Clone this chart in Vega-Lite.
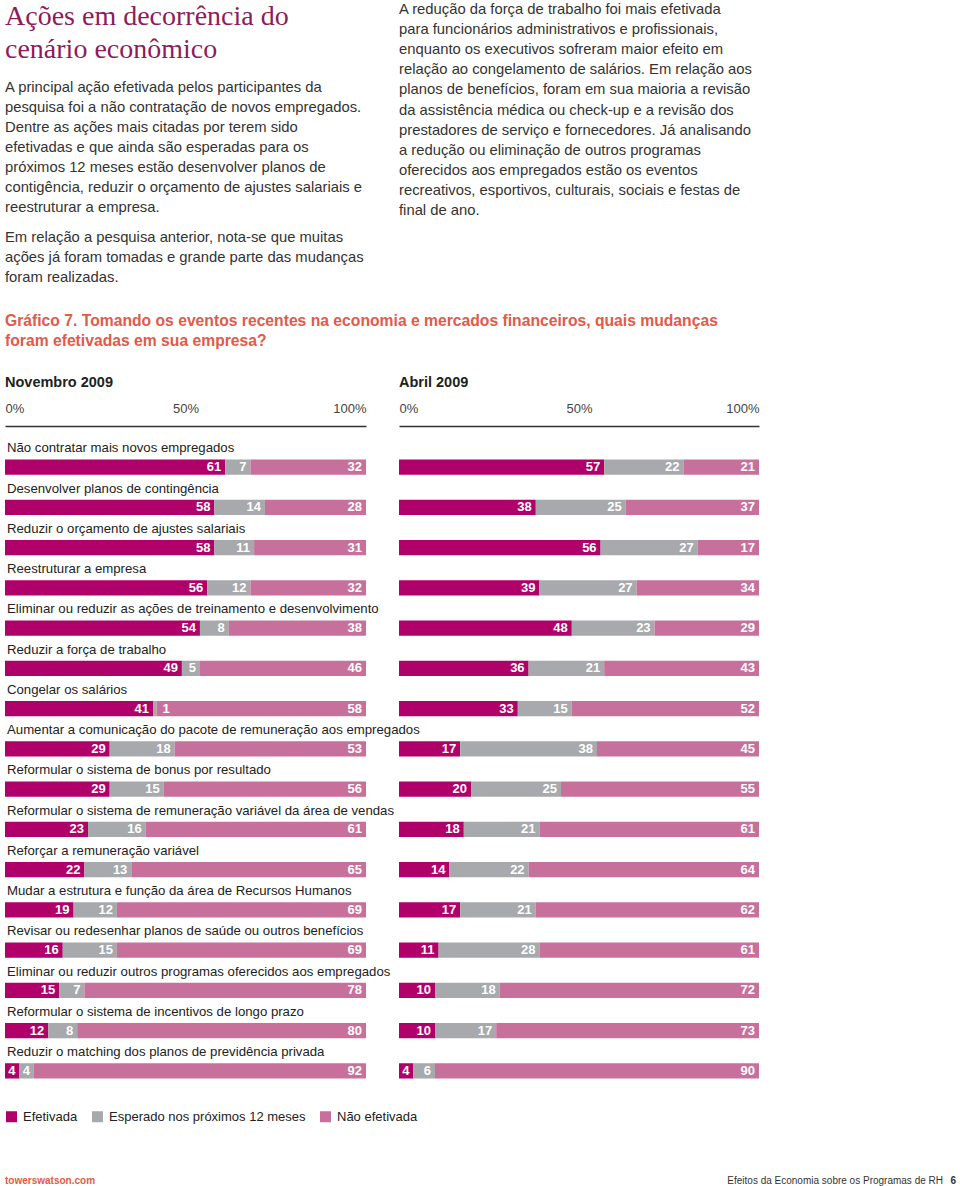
{
  "$schema": "https://vega.github.io/schema/vega-lite/v6.json",
  "background": "white",
  "padding": {"left": 5, "top": 0, "right": 0, "bottom": 0},
  "config": {"view": {"stroke": null}, "font": "Liberation Sans"},
  "datasets": {
    "barras": [
      {"periodo": "Novembro 2009", "acao": "Não contratar mais novos empregados", "Efetivada": 61, "Esperado nos próximos 12 meses": 7, "Não efetivada": 32},
      {"periodo": "Novembro 2009", "acao": "Desenvolver planos de contingência", "Efetivada": 58, "Esperado nos próximos 12 meses": 14, "Não efetivada": 28},
      {"periodo": "Novembro 2009", "acao": "Reduzir o orçamento de ajustes salariais", "Efetivada": 58, "Esperado nos próximos 12 meses": 11, "Não efetivada": 31},
      {"periodo": "Novembro 2009", "acao": "Reestruturar a empresa", "Efetivada": 56, "Esperado nos próximos 12 meses": 12, "Não efetivada": 32},
      {"periodo": "Novembro 2009", "acao": "Eliminar ou reduzir as ações de treinamento e desenvolvimento", "Efetivada": 54, "Esperado nos próximos 12 meses": 8, "Não efetivada": 38},
      {"periodo": "Novembro 2009", "acao": "Reduzir a força de trabalho", "Efetivada": 49, "Esperado nos próximos 12 meses": 5, "Não efetivada": 46},
      {"periodo": "Novembro 2009", "acao": "Congelar os salários", "Efetivada": 41, "Esperado nos próximos 12 meses": 1, "Não efetivada": 58},
      {"periodo": "Novembro 2009", "acao": "Aumentar a comunicação do pacote de remuneração aos empregados", "Efetivada": 29, "Esperado nos próximos 12 meses": 18, "Não efetivada": 53},
      {"periodo": "Novembro 2009", "acao": "Reformular o sistema de bonus por resultado", "Efetivada": 29, "Esperado nos próximos 12 meses": 15, "Não efetivada": 56},
      {"periodo": "Novembro 2009", "acao": "Reformular o sistema de remuneração variável da área de vendas", "Efetivada": 23, "Esperado nos próximos 12 meses": 16, "Não efetivada": 61},
      {"periodo": "Novembro 2009", "acao": "Reforçar a remuneração variável", "Efetivada": 22, "Esperado nos próximos 12 meses": 13, "Não efetivada": 65},
      {"periodo": "Novembro 2009", "acao": "Mudar a estrutura e função da área de Recursos Humanos", "Efetivada": 19, "Esperado nos próximos 12 meses": 12, "Não efetivada": 69},
      {"periodo": "Novembro 2009", "acao": "Revisar ou redesenhar planos de saúde ou outros benefícios", "Efetivada": 16, "Esperado nos próximos 12 meses": 15, "Não efetivada": 69},
      {"periodo": "Novembro 2009", "acao": "Eliminar ou reduzir outros programas oferecidos aos empregados", "Efetivada": 15, "Esperado nos próximos 12 meses": 7, "Não efetivada": 78},
      {"periodo": "Novembro 2009", "acao": "Reformular o sistema de incentivos de longo prazo", "Efetivada": 12, "Esperado nos próximos 12 meses": 8, "Não efetivada": 80},
      {"periodo": "Novembro 2009", "acao": "Reduzir o matching dos planos de previdência privada", "Efetivada": 4, "Esperado nos próximos 12 meses": 4, "Não efetivada": 92},
      {"periodo": "Abril 2009", "acao": "Não contratar mais novos empregados", "Efetivada": 57, "Esperado nos próximos 12 meses": 22, "Não efetivada": 21},
      {"periodo": "Abril 2009", "acao": "Desenvolver planos de contingência", "Efetivada": 38, "Esperado nos próximos 12 meses": 25, "Não efetivada": 37},
      {"periodo": "Abril 2009", "acao": "Reduzir o orçamento de ajustes salariais", "Efetivada": 56, "Esperado nos próximos 12 meses": 27, "Não efetivada": 17},
      {"periodo": "Abril 2009", "acao": "Reestruturar a empresa", "Efetivada": 39, "Esperado nos próximos 12 meses": 27, "Não efetivada": 34},
      {"periodo": "Abril 2009", "acao": "Eliminar ou reduzir as ações de treinamento e desenvolvimento", "Efetivada": 48, "Esperado nos próximos 12 meses": 23, "Não efetivada": 29},
      {"periodo": "Abril 2009", "acao": "Reduzir a força de trabalho", "Efetivada": 36, "Esperado nos próximos 12 meses": 21, "Não efetivada": 43},
      {"periodo": "Abril 2009", "acao": "Congelar os salários", "Efetivada": 33, "Esperado nos próximos 12 meses": 15, "Não efetivada": 52},
      {"periodo": "Abril 2009", "acao": "Aumentar a comunicação do pacote de remuneração aos empregados", "Efetivada": 17, "Esperado nos próximos 12 meses": 38, "Não efetivada": 45},
      {"periodo": "Abril 2009", "acao": "Reformular o sistema de bonus por resultado", "Efetivada": 20, "Esperado nos próximos 12 meses": 25, "Não efetivada": 55},
      {"periodo": "Abril 2009", "acao": "Reformular o sistema de remuneração variável da área de vendas", "Efetivada": 18, "Esperado nos próximos 12 meses": 21, "Não efetivada": 61},
      {"periodo": "Abril 2009", "acao": "Reforçar a remuneração variável", "Efetivada": 14, "Esperado nos próximos 12 meses": 22, "Não efetivada": 64},
      {"periodo": "Abril 2009", "acao": "Mudar a estrutura e função da área de Recursos Humanos", "Efetivada": 17, "Esperado nos próximos 12 meses": 21, "Não efetivada": 62},
      {"periodo": "Abril 2009", "acao": "Revisar ou redesenhar planos de saúde ou outros benefícios", "Efetivada": 11, "Esperado nos próximos 12 meses": 28, "Não efetivada": 61},
      {"periodo": "Abril 2009", "acao": "Eliminar ou reduzir outros programas oferecidos aos empregados", "Efetivada": 10, "Esperado nos próximos 12 meses": 18, "Não efetivada": 72},
      {"periodo": "Abril 2009", "acao": "Reformular o sistema de incentivos de longo prazo", "Efetivada": 10, "Esperado nos próximos 12 meses": 17, "Não efetivada": 73},
      {"periodo": "Abril 2009", "acao": "Reduzir o matching dos planos de previdência privada", "Efetivada": 4, "Esperado nos próximos 12 meses": 6, "Não efetivada": 90}
    ]
  },
  "vconcat": [
    {
      "hconcat": [
        {
          "vconcat": [
            {
              "width": 394, "height": 78,
              "data": {"values": [{"t": ["Ações em decorrência do", "cenário econômico"]}]},
              "mark": {"type": "text", "align": "left", "baseline": "line-top", "font": "Liberation Serif", "fontSize": 28, "lineHeight": 33, "color": "#8E1B5B"},
              "encoding": {
                "text": {"field": "t"},
                "x": {"datum": 0, "type": "quantitative", "scale": {"domain": [0, 1]}, "axis": null},
                "y": {"datum": 1, "type": "quantitative", "scale": {"domain": [0, 1]}, "axis": null}
              }
            },
            {
              "width": 394, "height": 150,
              "data": {"values": [{"t": ["A principal ação efetivada pelos participantes da", "pesquisa foi a não contratação de novos empregados.", "Dentre as ações mais citadas por terem sido", "efetivadas e que ainda são esperadas para os", "próximos 12 meses estão desenvolver planos de", "contigência, reduzir o orçamento de ajustes salariais e", "reestruturar a empresa."]}]},
              "mark": {"type": "text", "align": "left", "baseline": "line-top", "fontSize": 14.8, "lineHeight": 20, "color": "#333333"},
              "encoding": {
                "text": {"field": "t"},
                "x": {"datum": 0, "type": "quantitative", "scale": {"domain": [0, 1]}, "axis": null},
                "y": {"datum": 1, "type": "quantitative", "scale": {"domain": [0, 1]}, "axis": null}
              }
            },
            {
              "width": 394, "height": 83,
              "data": {"values": [{"t": ["Em relação a pesquisa anterior, nota-se que muitas", "ações já foram tomadas e grande parte das mudanças", "foram realizadas."]}]},
              "mark": {"type": "text", "align": "left", "baseline": "line-top", "fontSize": 14.8, "lineHeight": 20, "color": "#333333"},
              "encoding": {
                "text": {"field": "t"},
                "x": {"datum": 0, "type": "quantitative", "scale": {"domain": [0, 1]}, "axis": null},
                "y": {"datum": 1, "type": "quantitative", "scale": {"domain": [0, 1]}, "axis": null}
              }
            }
          ],
          "spacing": 0
        },
        {
          "width": 561, "height": 221,
          "data": {"values": [{"t": ["A redução da força de trabalho foi mais efetivada", "para funcionários administrativos e profissionais,", "enquanto os executivos sofreram maior efeito em", "relação ao congelamento de salários. Em relação aos", "planos de benefícios, foram em sua maioria a revisão", "da assistência médica ou check-up e a revisão dos", "prestadores de serviço e fornecedores. Já analisando", "a redução ou eliminação de outros programas", "oferecidos aos empregados estão os eventos", "recreativos, esportivos, culturais, sociais e festas de", "final de ano."]}]},
          "mark": {"type": "text", "align": "left", "baseline": "line-top", "fontSize": 14.8, "lineHeight": 20.1, "color": "#333333"},
          "encoding": {
            "text": {"field": "t"},
            "x": {"datum": 0, "type": "quantitative", "scale": {"domain": [0, 1]}, "axis": null},
            "y": {"datum": 1, "type": "quantitative", "scale": {"domain": [0, 1]}, "axis": null}
          }
        }
      ],
      "spacing": 0
    },
    {
      "width": 955, "height": 63,
      "data": {"values": [{"t": ["Gráfico 7. Tomando os eventos recentes na economia e mercados financeiros, quais mudanças", "foram efetivadas em sua empresa?"]}]},
      "mark": {"type": "text", "align": "left", "baseline": "line-top", "fontSize": 15.7, "fontWeight": "bold", "lineHeight": 20, "color": "#E25A48"},
      "encoding": {
        "text": {"field": "t"},
        "x": {"datum": 0, "type": "quantitative", "scale": {"domain": [0, 1]}, "axis": null},
        "y": {"datum": 1, "type": "quantitative", "scale": {"domain": [0, 1]}, "axis": null}
      }
    },
    {
      "hconcat": [
        {
          "width": 361, "height": 644,
          "title": {"text": "Novembro 2009", "anchor": "start", "frame": "group", "fontSize": 14.5, "fontWeight": "bold", "color": "#222222", "offset": 12},
          "data": {"name": "barras"},
          "transform": [
            {"filter": "datum.periodo === 'Novembro 2009'"},
            {"fold": ["Efetivada", "Esperado nos próximos 12 meses", "Não efetivada"], "as": ["tipo", "valor"]},
            {"stack": "valor", "groupby": ["acao"], "sort": [{"field": "tipo", "order": "ascending"}], "as": ["v0", "v1"]}
          ],
          "layer": [
            {
              "mark": {"type": "bar"},
              "encoding": {
                "y": {"field": "acao", "type": "nominal", "sort": null, "scale": {"paddingInner": 0.62, "paddingOuter": 0.31}, "axis": null},
                "x": {"field": "v0", "type": "quantitative", "scale": {"domain": [0, 100]},
                  "axis": {"orient": "top", "values": [0, 50, 100], "labelExpr": "datum.value + '%'", "title": null, "grid": false, "ticks": false, "tickSize": 0, "domainColor": "#333333", "domainWidth": 1.5, "labelFlush": true, "labelFontSize": 13, "labelColor": "#444444", "labelPadding": 11, "offset": 21}},
                "x2": {"field": "v1"},
                "color": {"field": "tipo", "type": "nominal",
                  "scale": {"domain": ["Efetivada", "Esperado nos próximos 12 meses", "Não efetivada"], "range": ["#B0006A", "#A7A9AC", "#C8709C"]},
                  "legend": {"orient": "bottom", "direction": "horizontal", "title": null, "symbolType": "square", "symbolSize": 121, "symbolStrokeWidth": 0, "symbolOpacity": 1, "labelFontSize": 13, "labelColor": "#222222", "labelOffset": 5, "columnPadding": 13, "padding": 0, "offset": 19, "labelLimit": 400}}
              }
            },
            {
              "transform": [{"filter": "datum.valor > 1"}],
              "mark": {"type": "text", "align": "right", "baseline": "middle", "dx": -4, "fontWeight": "bold", "fontSize": 13, "color": "white"},
              "encoding": {
                "y": {"field": "acao", "type": "nominal", "sort": null, "axis": null},
                "x": {"field": "v1", "type": "quantitative"},
                "text": {"field": "valor", "type": "quantitative"}
              }
            },
            {
              "transform": [{"filter": "datum.valor <= 1"}],
              "mark": {"type": "text", "align": "left", "baseline": "middle", "dx": 6, "fontWeight": "bold", "fontSize": 13, "color": "white"},
              "encoding": {
                "y": {"field": "acao", "type": "nominal", "sort": null, "axis": null},
                "x": {"field": "v1", "type": "quantitative"},
                "text": {"field": "valor", "type": "quantitative"}
              }
            },
            {
              "transform": [{"filter": "datum.tipo === 'Efetivada'"}],
              "mark": {"type": "text", "align": "left", "baseline": "alphabetic", "dx": 2, "dy": -7, "fontSize": 13.2, "color": "#222222"},
              "encoding": {
                "y": {"field": "acao", "type": "nominal", "sort": null, "bandPosition": 0, "axis": null},
                "x": {"datum": 0, "type": "quantitative"},
                "text": {"field": "acao", "type": "nominal"}
              }
            }
          ]
        },
        {
          "width": 360, "height": 644,
          "title": {"text": "Abril 2009", "anchor": "start", "frame": "group", "fontSize": 14.5, "fontWeight": "bold", "color": "#222222", "offset": 12},
          "data": {"name": "barras"},
          "transform": [
            {"filter": "datum.periodo === 'Abril 2009'"},
            {"fold": ["Efetivada", "Esperado nos próximos 12 meses", "Não efetivada"], "as": ["tipo", "valor"]},
            {"stack": "valor", "groupby": ["acao"], "sort": [{"field": "tipo", "order": "ascending"}], "as": ["v0", "v1"]}
          ],
          "layer": [
            {
              "mark": {"type": "bar"},
              "encoding": {
                "y": {"field": "acao", "type": "nominal", "sort": null, "scale": {"paddingInner": 0.62, "paddingOuter": 0.31}, "axis": null},
                "x": {"field": "v0", "type": "quantitative", "scale": {"domain": [0, 100]},
                  "axis": {"orient": "top", "values": [0, 50, 100], "labelExpr": "datum.value + '%'", "title": null, "grid": false, "ticks": false, "tickSize": 0, "domainColor": "#333333", "domainWidth": 1.5, "labelFlush": true, "labelFontSize": 13, "labelColor": "#444444", "labelPadding": 11, "offset": 21}},
                "x2": {"field": "v1"},
                "color": {"field": "tipo", "type": "nominal",
                  "scale": {"domain": ["Efetivada", "Esperado nos próximos 12 meses", "Não efetivada"], "range": ["#B0006A", "#A7A9AC", "#C8709C"]},
                  "legend": null}
              }
            },
            {
              "mark": {"type": "text", "align": "right", "baseline": "middle", "dx": -4, "fontWeight": "bold", "fontSize": 13, "color": "white"},
              "encoding": {
                "y": {"field": "acao", "type": "nominal", "sort": null, "axis": null},
                "x": {"field": "v1", "type": "quantitative"},
                "text": {"field": "valor", "type": "quantitative"}
              }
            }
          ]
        }
      ],
      "spacing": 33,
      "bounds": "flush",
      "resolve": {"scale": {"color": "independent", "x": "independent", "y": "independent"}, "legend": {"color": "independent"}}
    },
    {
      "width": 951, "height": 62,
      "data": {"values": [{"esq": "towerswatson.com", "dir": "Efeitos da Economia sobre os Programas de RH", "pag": "6"}]},
      "encoding": {
        "y": {"datum": 0, "type": "quantitative", "scale": {"domain": [0, 1]}, "axis": null}
      },
      "layer": [
        {
          "mark": {"type": "text", "align": "left", "baseline": "bottom", "fontSize": 10, "fontWeight": "bold", "color": "#E25A48"},
          "encoding": {
            "text": {"field": "esq"},
            "x": {"datum": 0, "type": "quantitative", "scale": {"domain": [0, 1]}, "axis": null}
          }
        },
        {
          "mark": {"type": "text", "align": "right", "baseline": "bottom", "fontSize": 10, "dx": -13, "color": "#333333"},
          "encoding": {
            "text": {"field": "dir"},
            "x": {"datum": 1, "type": "quantitative", "scale": {"domain": [0, 1]}, "axis": null}
          }
        },
        {
          "mark": {"type": "text", "align": "right", "baseline": "bottom", "fontSize": 10, "fontWeight": "bold", "color": "#333333"},
          "encoding": {
            "text": {"field": "pag"},
            "x": {"datum": 1, "type": "quantitative", "scale": {"domain": [0, 1]}, "axis": null}
          }
        }
      ]
    }
  ],
  "spacing": 0,
  "resolve": {"scale": {"color": "independent"}, "legend": {"color": "independent"}}
}
